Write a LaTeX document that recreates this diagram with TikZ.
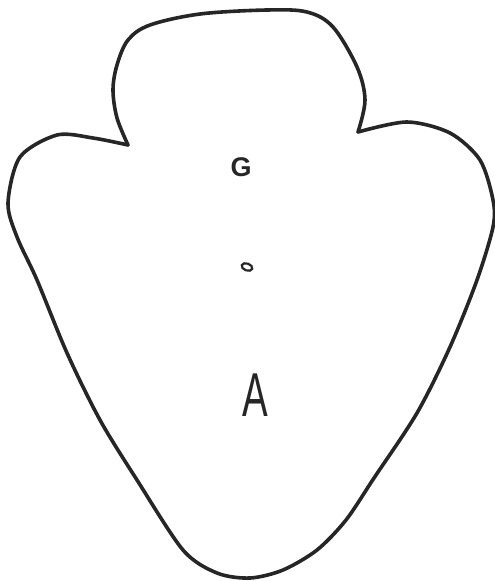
\documentclass[tikz,border=0pt]{standalone}
\usepackage{fontspec}
\setsansfont{Liberation Sans}
\begin{document}
\begin{tikzpicture}[x=1pt,y=-1pt,
  outline/.style={line width=3.6pt,draw=black!85,line join=round,line cap=round},
  lbl/.style={inner sep=0pt,text=black!85}]
\useasboundingbox (0,0) rectangle (495,581);
\coordinate (nl) at (128,145);
\coordinate (nr) at (358,132);
\draw[outline] plot[smooth,tension=0.5] coordinates {(128,145) (93,138) (57,135) (20,157) (8,203) (17,237) (37,280) (67,353) (100,420) (137,480) (183,550) (217,573) (250,578) (283,570) (317,550) (346,520) (374,478) (417,413) (450,347) (477,280) (493,227) (493,200) (480,160) (450,133) (407,122) (358,132)};
\draw[outline] plot[smooth,tension=0.55] coordinates {(358,132) (365,100) (357,67) (333,27) (307,12) (267,10) (200,14) (150,25) (128,40) (117,65) (113,90) (117,118) (128,145)};
\node[lbl,font=\sffamily\bfseries\fontsize{27}{27}\selectfont] (G) at (241,167) {G};
\draw[line width=2.2pt,draw=black!85,rotate around={-20:(247,267)}] (247,267) ellipse [x radius=5.5, y radius=3.5];
\coordinate (dot) at (247,267);
\node[lbl,font=\sffamily\fontsize{62}{62}\selectfont] (A) at (255,395) {\scalebox{0.62}[1]{A}};
\end{tikzpicture}
\end{document}
